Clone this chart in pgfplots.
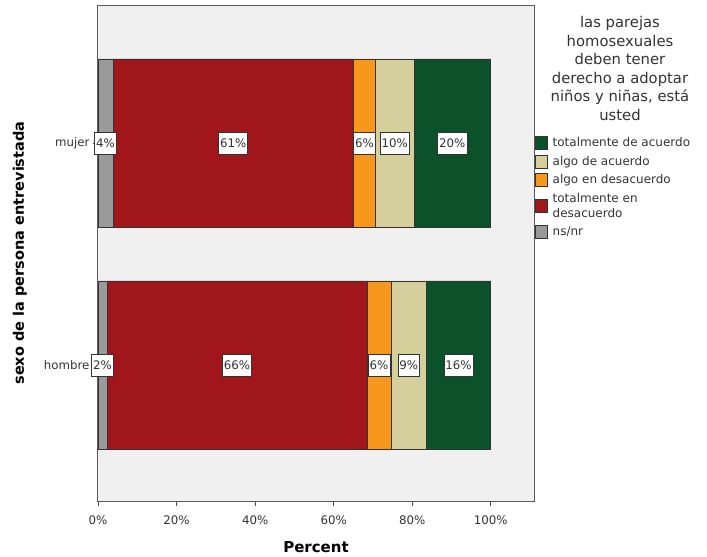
\documentclass[border=0pt]{standalone}
\usepackage{fontspec}
\setmainfont{DejaVu Sans}
\usepackage{pgfplots}
\usepackage{pgfplotstable}
\pgfplotsset{compat=1.18}

\definecolor{cnsnr}{HTML}{9A9A9A}
\definecolor{ctdes}{HTML}{A0161A}
\definecolor{cades}{HTML}{F7981D}
\definecolor{caac}{HTML}{D4CF9B}
\definecolor{ctac}{HTML}{0B522A}
\definecolor{plotbg}{HTML}{F0F0F0}
\definecolor{txt}{HTML}{333333}

% porcentajes por sexo (0 = hombre, 1 = mujer)
\pgfplotstableread{
cat nsnr tdes ades aac tac
0 2.3 66.2 6.1 9.0 16.4
1 3.8 61.2 5.7 9.7 19.6
}\datos

\pgfplotsset{
  caja/.style={
    fill=#1, draw=black!80, line width=0.6pt,
    legend image code/.code={\draw[fill=#1,draw=black!80,line width=0.6pt] (0pt,-6.5pt) rectangle (12pt,6.5pt);}
  }
}

\begin{document}
\begin{tikzpicture}
\useasboundingbox (-98pt,-56pt) rectangle (609pt,501pt);
\begin{axis}[
  at={(0,0)}, anchor=south west,
  scale only axis, width=436pt, height=495pt,
  xbar stacked, bar width=168pt,
  xmin=0, xmax=111, ymin=-0.613, ymax=1.617,
  axis background/.style={fill=plotbg},
  axis line style={draw=black!65, line width=1pt},
  xtick={0,20,40,60,80,100},
  xticklabel={\pgfmathprintnumber{\tick}\%},
  ytick={0,1}, yticklabels={hombre,mujer},
  xtick pos=bottom, ytick pos=left,
  tick align=outside, major tick length=5pt,
  tick style={draw=black!70, line width=0.8pt},
  /pgf/number format/assume math mode=true,
  ticklabel style={font=\fontsize{11.8}{13}\selectfont, text=txt},
  xticklabel style={yshift=-6pt},
  xlabel={\textbf{Percent}},
  ylabel={\textbf{sexo de la persona entrevistada}},
  every axis x label/.style={at={(axis description cs:0.5,-0.093)}, anchor=center, font=\fontsize{15}{17}\selectfont},
  every axis y label/.style={at={(axis description cs:-0.179,0.501)}, anchor=center, rotate=90, font=\fontsize{14.5}{17}\selectfont},
  point meta=explicit,
  nodes near coords={\pgfmathprintnumber[fixed,precision=0]{\pgfplotspointmeta}\%},
  nodes near coords style={
    font=\fontsize{11.8}{13}\selectfont, text=txt,
    fill=white, draw=black!80, line width=0.6pt,
    inner xsep=1.5pt, inner ysep=6.5pt, anchor=center,
  },
  reverse legend,
  legend style={
    at={(rel axis cs:1.002,0.743)}, anchor=north west,
    draw=none, fill=none, inner xsep=0pt,
    font=\fontsize{12}{15}\selectfont, text=txt,
    cells={anchor=west, align=left},
    row sep=4pt,
    /tikz/every odd column/.append style={column sep=3pt},
  },
]
\addplot[caja=cnsnr] table[x=nsnr, y=cat, meta=nsnr] {\datos};
\addplot[caja=ctdes] table[x=tdes, y=cat, meta=tdes] {\datos};
\addplot[caja=cades] table[x=ades, y=cat, meta=ades] {\datos};
\addplot[caja=caac] table[x=aac, y=cat, meta=aac] {\datos};
\addplot[caja=ctac] table[x=tac, y=cat, meta=tac] {\datos};
\legend{ns/nr, {totalmente en\\desacuerdo}, algo en desacuerdo, algo de acuerdo, totalmente de acuerdo}
\end{axis}
\node[align=center, text=txt, font=\fontsize{14.8}{18.6}\selectfont] at (522pt,432.5pt)
  {las parejas\\homosexuales\\deben tener\\derecho a adoptar\\niños y niñas, está\\usted};
\end{tikzpicture}
\end{document}
